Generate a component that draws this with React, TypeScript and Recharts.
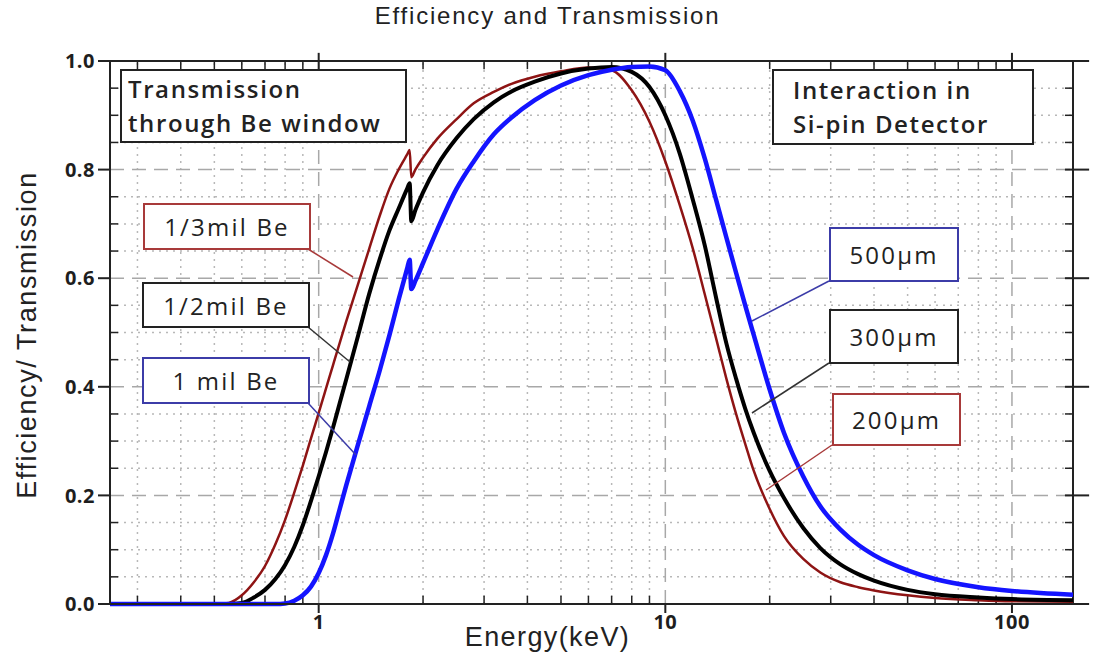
import React from "react"
import {
  LineChart,
  Line,
  XAxis,
  YAxis,
  ReferenceLine,
  ReferenceArea,
} from "recharts"

// Photon energy grid (keV), shared by all three curves
const ENERGY = [
  0.25, 0.5, 0.55, 0.6, 0.65, 0.7, 0.75, 0.8, 0.85, 0.9,
  0.95, 1.0, 1.05, 1.1, 1.15, 1.2, 1.3, 1.4, 1.5, 1.6,
  1.7, 1.8, 1.83, 1.85, 1.9, 2.0, 2.2, 2.5, 2.8, 3.2,
  3.6, 4.2, 5, 6, 7, 8, 9, 10, 11, 12,
  13, 14, 15, 16, 17, 18, 20, 22, 25, 28,
  32, 36, 40, 50, 60, 80, 100, 150,
]

// 1/3 mil Be window / 200um Si
const THIRD_MIL = [
  0, 0, 0.002, 0.016, 0.04, 0.07, 0.11, 0.155, 0.205, 0.255,
  0.305, 0.352, 0.397, 0.44, 0.481, 0.52, 0.59, 0.655, 0.715, 0.765,
  0.8, 0.828, 0.836, 0.786, 0.8, 0.822, 0.857, 0.893, 0.922, 0.943,
  0.958, 0.971, 0.981, 0.988, 0.983, 0.946, 0.888, 0.815, 0.735, 0.655,
  0.57, 0.49, 0.415, 0.35, 0.295, 0.245, 0.175, 0.125, 0.083, 0.058,
  0.04, 0.031, 0.025, 0.016, 0.011, 0.007, 0.005, 0.004,
]

// 1/2 mil Be window / 300um Si
const HALF_MIL = [
  0, 0, 0, 0.002, 0.012, 0.026, 0.046, 0.072, 0.105, 0.145,
  0.19, 0.235, 0.28, 0.325, 0.37, 0.413, 0.495, 0.572, 0.635, 0.688,
  0.728, 0.765, 0.775, 0.705, 0.725, 0.758, 0.808, 0.858, 0.893, 0.924,
  0.944, 0.962, 0.977, 0.986, 0.989, 0.98, 0.952, 0.9, 0.83, 0.745,
  0.66, 0.565, 0.48, 0.415, 0.36, 0.315, 0.245, 0.195, 0.14, 0.103,
  0.073, 0.055, 0.043, 0.026, 0.018, 0.012, 0.009, 0.007,
]

// 1 mil Be window / 500um Si
const ONE_MIL = [
  0, 0, 0, 0, 0, 0, 0, 0.001, 0.006, 0.016,
  0.032, 0.057, 0.09, 0.13, 0.175, 0.218, 0.295, 0.365, 0.43, 0.495,
  0.56, 0.618, 0.634, 0.58, 0.595, 0.628, 0.69, 0.765, 0.815, 0.865,
  0.896, 0.928, 0.955, 0.974, 0.984, 0.989, 0.99, 0.983, 0.945, 0.89,
  0.82, 0.745, 0.675, 0.61, 0.55, 0.495, 0.395, 0.315, 0.235, 0.18,
  0.137, 0.109, 0.09, 0.062, 0.046, 0.031, 0.024, 0.017,
]

const X_TICKS = [1, 10, 100]
const X_MINOR = [0.3, 0.4, 0.5, 0.6, 0.7, 0.8, 0.9, 2, 3, 4, 5, 6, 7, 8, 9, 20, 30, 40, 50, 60, 70, 80, 90]
const Y_TICKS = [0, 0.2, 0.4, 0.6, 0.8, 1.0]
const Y_MINOR = [0.05, 0.1, 0.15, 0.25, 0.3, 0.35, 0.45, 0.5, 0.55, 0.65, 0.7, 0.75, 0.85, 0.9, 0.95]

const X_MIN = 0.25
const X_MAX = 150
const TICK_X = 1.055 // ~8px on the log axis
const TICK_Y = 0.015 // ~8px on the value axis

const RED = "#8e1414"
const BLUE = "#1414ff"
const BOX_RED = "#a83a3a"
const BOX_BLUE = "#3c3ca8"

const rows = ENERGY.map((e, i) => ({
  e,
  third: THIRD_MIL[i],
  half: HALF_MIL[i],
  one: ONE_MIL[i],
}))

const tickStyle = {
  fill: "#1e1e1e",
  fontFamily: "Open Sans",
  fontWeight: 700,
  fontSize: 20,
  letterSpacing: 0.5,
}

function Box({
  left,
  top,
  width,
  height,
  color,
  children,
  style,
}: {
  left: number
  top: number
  width: number
  height: number
  color: string
  children: React.ReactNode
  style?: React.CSSProperties
}) {
  return (
    <div
      style={{
        position: "absolute",
        left,
        top,
        width,
        height,
        boxSizing: "border-box",
        border: `2px solid ${color}`,
        background: "#fff",
        display: "flex",
        alignItems: "center",
        justifyContent: "center",
        fontFamily: "Open Sans",
        color: "#222",
        fontSize: 24,
        fontWeight: 500,
        letterSpacing: 2.2,
        whiteSpace: "nowrap",
        ...style,
      }}
    >
      {children}
    </div>
  )
}

const headerStyle: React.CSSProperties = {
  justifyContent: "flex-start",
  fontWeight: 600,
  lineHeight: "34px",
  fontSize: 24,
  letterSpacing: 1.6,
}

export default function App() {
  return (
    <div
      style={{
        position: "absolute",
        left: 0,
        top: 0,
        width: 1095,
        height: 666,
        background: "#fff",
        overflow: "hidden",
      }}
    >
      <LineChart
        width={1095}
        height={666}
        data={rows}
        margin={{ top: 61, right: 22, bottom: 22, left: 50 }}
      >
        {X_MINOR.map((x) => (
          <ReferenceLine key={`gx${x}`} x={x} stroke="#b8b8b8" strokeDasharray="2 5" strokeWidth={1.5} />
        ))}
        {Y_MINOR.map((y) => (
          <ReferenceLine key={`gy${y}`} y={y} stroke="#b8b8b8" strokeDasharray="2 5" strokeWidth={1.5} />
        ))}
        {X_TICKS.map((x) => (
          <ReferenceLine key={`Gx${x}`} x={x} stroke="#a8a8a8" strokeDasharray="14 8" strokeWidth={1.5} />
        ))}
        {Y_TICKS.slice(1, 5).map((y) => (
          <ReferenceLine key={`Gy${y}`} y={y} stroke="#a8a8a8" strokeDasharray="14 8" strokeWidth={1.5} />
        ))}

        <XAxis
          dataKey="e"
          type="number"
          scale="log"
          domain={[X_MIN, X_MAX]}
          allowDataOverflow
          ticks={X_TICKS}
          tick={tickStyle}
          tickSize={9}
          tickMargin={2}
          height={40}
          axisLine={{ stroke: "#222", strokeWidth: 2 }}
          tickLine={{ stroke: "#222", strokeWidth: 2 }}
        />
        <YAxis
          type="number"
          domain={[0, 1]}
          ticks={Y_TICKS}
          tickFormatter={(v: number) => v.toFixed(1)}
          tick={tickStyle}
          tickSize={12}
          tickMargin={3}
          width={60}
          axisLine={{ stroke: "#222", strokeWidth: 2 }}
          tickLine={{ stroke: "#222", strokeWidth: 2 }}
        />

        {/* minor ticks on all four sides, plus outside major ticks top/right */}
        {Y_MINOR.map((y) => (
          <ReferenceLine key={`tl${y}`} segment={[{ x: X_MIN, y }, { x: X_MIN * TICK_X, y }]} stroke="#222" strokeWidth={1.5} />
        ))}
        {Y_MINOR.map((y) => (
          <ReferenceLine key={`tr${y}`} segment={[{ x: X_MAX / TICK_X, y }, { x: X_MAX, y }]} stroke="#222" strokeWidth={1.5} />
        ))}
        {Y_TICKS.map((y) => (
          <ReferenceLine
            key={`TR${y}`}
            segment={[{ x: X_MAX / TICK_X, y }, { x: X_MAX * TICK_X * TICK_X, y }]}
            stroke="#222"
            strokeWidth={2}
            ifOverflow="visible"
          />
        ))}
        {X_MINOR.map((x) => (
          <ReferenceLine key={`tb${x}`} segment={[{ x, y: 0 }, { x, y: TICK_Y }]} stroke="#222" strokeWidth={1.5} />
        ))}
        {X_MINOR.map((x) => (
          <ReferenceLine key={`tt${x}`} segment={[{ x, y: 1 - TICK_Y }, { x, y: 1 }]} stroke="#222" strokeWidth={1.5} />
        ))}
        {X_TICKS.map((x) => (
          <ReferenceLine
            key={`TT${x}`}
            segment={[{ x, y: 1 - TICK_Y }, { x, y: 1 + TICK_Y }]}
            stroke="#222"
            strokeWidth={2}
            ifOverflow="visible"
          />
        ))}
        <ReferenceArea x1={X_MIN} x2={X_MAX} y1={0} y2={1} fill="none" stroke="#222" strokeWidth={2} />

        <Line
          type="monotone"
          dataKey="third"
          stroke={RED}
          strokeWidth={2.5}
          dot={false}
          isAnimationActive={false}
        />
        <Line
          type="monotone"
          dataKey="half"
          stroke="#000"
          strokeWidth={4}
          dot={false}
          isAnimationActive={false}
        />
        <Line
          type="monotone"
          dataKey="one"
          stroke={BLUE}
          strokeWidth={4.5}
          dot={false}
          isAnimationActive={false}
        />
      </LineChart>

      {/* leader lines from label boxes to curves */}
      <svg
        width={1095}
        height={666}
        style={{ position: "absolute", left: 0, top: 0, pointerEvents: "none" }}
      >
        <line x1={308} y1={249} x2={353} y2={277} stroke={BOX_RED} strokeWidth={1.5} />
        <line x1={308} y1={327} x2={350} y2={362} stroke="#333" strokeWidth={1.5} />
        <line x1={308} y1={403} x2={356} y2={455} stroke={BOX_BLUE} strokeWidth={1.5} />
        <line x1={829} y1={281} x2={752} y2={321} stroke={BOX_BLUE} strokeWidth={1.5} />
        <line x1={829} y1={363} x2={752} y2={413} stroke="#333" strokeWidth={1.5} />
        <line x1={832} y1={445} x2={766} y2={490} stroke={BOX_RED} strokeWidth={1.5} />
      </svg>

      <Box left={120} top={69} width={287} height={74} color="#222" style={{ ...headerStyle, paddingLeft: 6 }}>
        <div>
          Transmission
          <br />
          through Be window
        </div>
      </Box>
      <Box left={772} top={69} width={262} height={76} color="#222" style={{ ...headerStyle, paddingLeft: 19 }}>
        <div>
          Interaction in
          <br />
          Si-pin Detector
        </div>
      </Box>

      <Box left={143} top={203} width={168} height={47} color={BOX_RED}>
        1/3mil Be
      </Box>
      <Box left={142} top={282} width={168} height={46} color="#222">
        1/2mil Be
      </Box>
      <Box left={142} top={357} width={168} height={47} color={BOX_BLUE}>
        1 mil Be
      </Box>

      <Box left={829} top={227} width={130} height={55} color={BOX_BLUE}>
        500µm
      </Box>
      <Box left={829} top={309} width={130} height={55} color="#222">
        300µm
      </Box>
      <Box left={832} top={393} width={129} height={53} color={BOX_RED}>
        200µm
      </Box>

      <div
        style={{
          position: "absolute",
          left: 0,
          width: 1095,
          top: 2,
          textAlign: "center",
          fontFamily: "Liberation Sans, Arial, sans-serif",
          fontSize: 24,
          letterSpacing: 1.8,
          color: "#222",
        }}
      >
        Efficiency and Transmission
      </div>
      <div
        style={{
          position: "absolute",
          left: 0,
          width: 1095,
          top: 622,
          textAlign: "center",
          fontFamily: "Liberation Sans, Arial, sans-serif",
          fontSize: 27,
          letterSpacing: 1.4,
          color: "#222",
        }}
      >
        Energy(keV)
      </div>
      <div
        style={{
          position: "absolute",
          left: 27,
          top: 335,
          transform: "translate(-50%, -50%) rotate(-90deg)",
          whiteSpace: "nowrap",
          fontFamily: "Liberation Sans, Arial, sans-serif",
          fontSize: 27,
          letterSpacing: 1.6,
          color: "#222",
        }}
      >
        Efficiency/ Transmission
      </div>
    </div>
  )
}
